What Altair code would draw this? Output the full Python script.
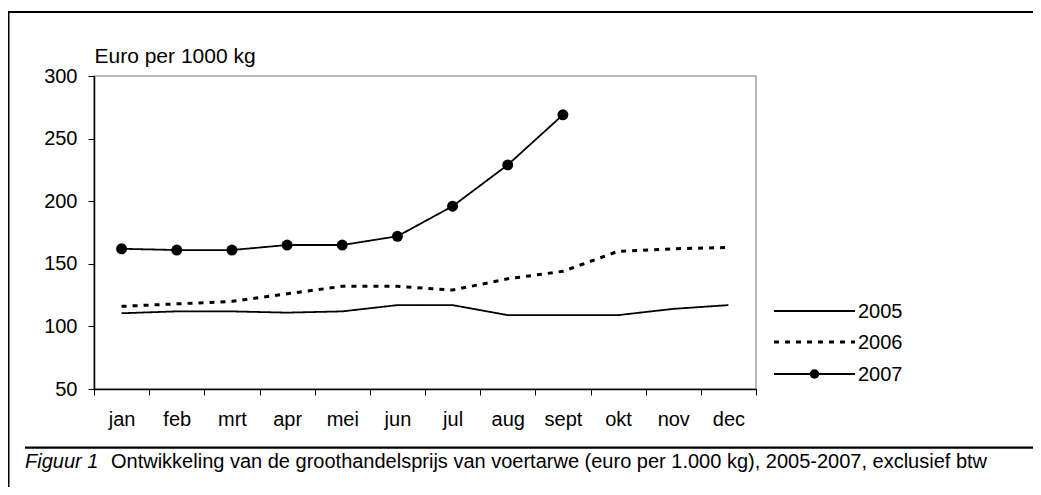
import altair as alt
import pandas as pd

months = ["jan", "feb", "mrt", "apr", "mei", "jun", "jul", "aug", "sept", "okt", "nov", "dec"]
years = ["2005", "2006", "2007"]
v2005 = [110.5, 112, 112, 111, 112, 117, 117, 109, 109, 109, 114, 117]
v2006 = [116, 118, 120, 126, 132, 132, 129, 138, 144, 160, 162, 163]
v2007 = [162, 161, 161, 165, 165, 172, 196, 229, 269]
y_title = "Euro per 1000 kg"
caption_label = "Figuur 1"
caption_text = "Ontwikkeling van de groothandelsprijs van voertarwe (euro per 1.000 kg), 2005-2007, exclusief btw"

rows = []
for yr, vals in zip(years, [v2005, v2006, v2007]):
    for i, v in enumerate(vals):
        rows.append({"year": yr, "month": months[i], "idx": i, "value": v})
df = pd.DataFrame(rows)
one = pd.DataFrame({"k": [0]})

FONT = "Liberation Sans"
W, H = 662, 313
band = W / len(months)

label_expr = "[" + ",".join("'%s'" % m for m in months) + "][datum.value + 0.5] || ''"

x_enc = alt.X(
    "idx:Q",
    scale=alt.Scale(domain=[-0.5, len(months) - 0.5], nice=False, zero=False),
    axis=alt.Axis(
        values=[i - 0.5 for i in range(len(months) + 1)],
        labelExpr=label_expr,
        labelOffset=band / 2,
        labelFlush=False,
        labelOverlap=False,
        labelPadding=14,
        labelFontSize=20,
        labelFont=FONT,
        labelColor="black",
        tickSize=6,
        tickColor="black",
        domainColor="black",
        domainWidth=1.5,
        grid=False,
        title=None,
    ),
)
y_enc = alt.Y(
    "value:Q",
    scale=alt.Scale(domain=[50, 300], nice=False, zero=False),
    axis=alt.Axis(
        values=[50, 100, 150, 200, 250, 300],
        labelFontSize=20,
        labelFont=FONT,
        labelColor="black",
        labelPadding=11,
        tickSize=6,
        tickColor="black",
        domainColor="black",
        domainWidth=1.5,
        grid=False,
        title=y_title,
        titleAngle=0,
        titleAlign="left",
        titleBaseline="alphabetic",
        titleX=0,
        titleY=-14,
        titleFont=FONT,
        titleFontSize=21,
        titleFontWeight="normal",
        titleColor="black",
    ),
)

styles = {
    "2005": dict(strokeDash=[1, 0], strokeWidth=1.8),
    "2006": dict(strokeDash=[5, 6], strokeWidth=3),
    "2007": dict(strokeDash=[1, 0], strokeWidth=1.8),
}

layers = []
for yr in years:
    layers.append(
        alt.Chart(df)
        .transform_filter(alt.datum.year == yr)
        .mark_line(color="black", **styles[yr])
        .encode(x=x_enc, y=y_enc)
    )

points = alt.Chart(df).transform_filter(alt.datum.year == years[2]).mark_point(
    filled=True, color="black", size=120, opacity=1
).encode(x="idx:Q", y="value:Q")
layers.append(points)

# legend (drawn manually)
leg_x1, leg_x2, leg_tx = W + 18, W + 99, W + 102
leg_y = [235, 266, 298]
for k, yr in enumerate(years):
    layers.append(
        alt.Chart(one).mark_rule(color="black", **styles[yr]).encode(
            x=alt.value(leg_x1), x2=alt.value(leg_x2),
            y=alt.value(leg_y[k]), y2=alt.value(leg_y[k])
        )
    )
    layers.append(
        alt.Chart(one).mark_text(
            align="left", baseline="middle", fontSize=20, font=FONT, color="black"
        ).encode(x=alt.value(leg_tx), y=alt.value(leg_y[k] + 1), text=alt.value(yr))
    )
layers.append(
    alt.Chart(one).mark_point(filled=True, color="black", size=90, opacity=1).encode(
        x=alt.value((leg_x1 + leg_x2) / 2), y=alt.value(leg_y[2])
    )
)

# frame decorations (thin filled rectangles)
def bar(x1, x2, y1, y2):
    return alt.Chart(one).mark_rect(color="black", strokeWidth=0).encode(
        x=alt.value(x1), x2=alt.value(x2), y=alt.value(y1), y2=alt.value(y2)
    )

layers.append(bar(-86.5, W + 277, -65, -63))          # top border
layers.append(bar(-86.5, -84.5, -65, H + 110))        # left border
layers.append(bar(-69, W + 277, 370.5, 372.8))        # caption separator

layers.append(alt.Chart(one).mark_text(
    align="left", baseline="alphabetic", fontSize=20, font=FONT, fontStyle="italic", color="black"
).encode(x=alt.value(-69), y=alt.value(392), text=alt.value(caption_label)))
layers.append(alt.Chart(one).mark_text(
    align="left", baseline="alphabetic", fontSize=20, font=FONT, color="black"
).encode(x=alt.value(17), y=alt.value(392), text=alt.value(caption_text)))

chart = alt.layer(*layers).properties(
    width=W,
    height=H,
    padding={"left": 86, "top": 68, "right": 277, "bottom": 98},
    autosize=alt.AutoSizeParams(type="none"),
).configure_view(stroke="#b8b8b8", strokeWidth=2)

chart.save("out.html", embed_options={"renderer": "svg", "actions": False})
